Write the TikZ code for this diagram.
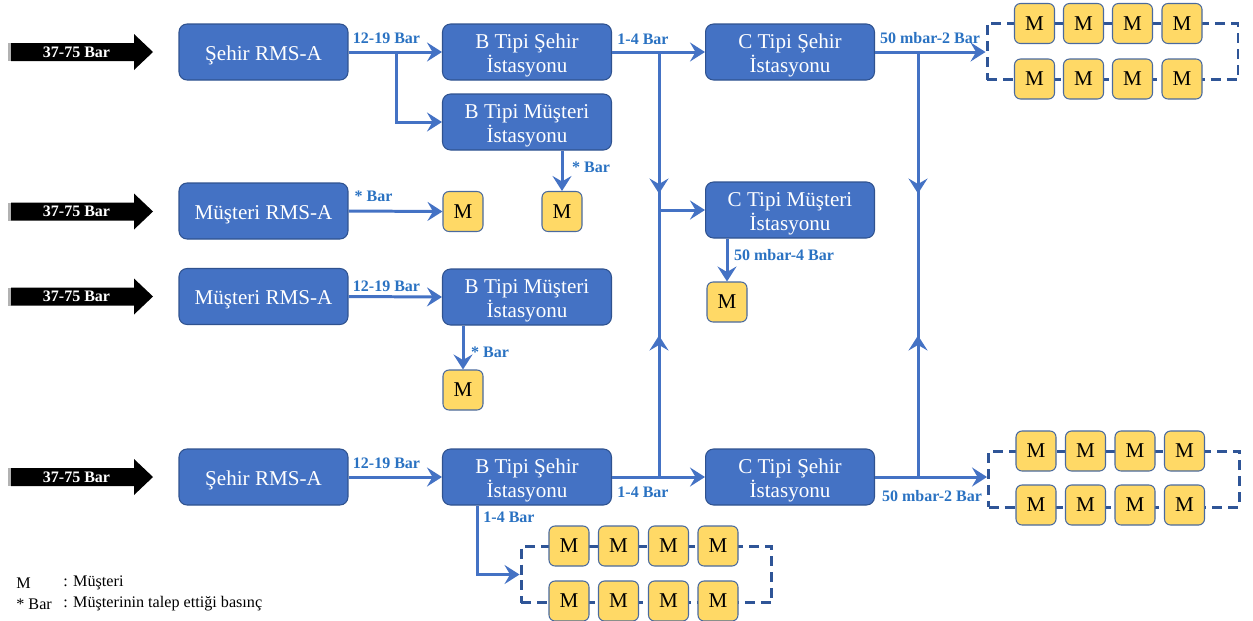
\documentclass[tikz,border=0pt]{standalone}
\usepackage{fontspec}
\setmainfont{Liberation Serif}
\usetikzlibrary{arrows.meta,decorations.markings,calc}
\definecolor{boxblue}{HTML}{4472C4}
\definecolor{boxborder}{HTML}{2F528F}
\definecolor{lineblue}{HTML}{4472C4}
\definecolor{lblblue}{HTML}{2A72C2}
\definecolor{myellow}{HTML}{FFD966}
\definecolor{mborder}{HTML}{4A6A9E}
\definecolor{dashblue}{HTML}{2F5597}
\begin{document}
\begin{tikzpicture}[x=0.02cm,y=-0.02cm,
  stntext/.style={text=white,font=\fontsize{12}{13.6}\selectfont,align=center,
    inner sep=0,yshift=-0.07cm},
  stn/.style={draw=boxborder,line width=0.6pt,fill=boxblue,rounded corners=0.16cm,
    minimum width=3.38cm,minimum height=1.12cm,inner sep=0,
    label={[stntext]center:{#1}}},
  mbox/.style={draw=mborder,line width=0.6pt,fill=myellow,rounded corners=0.12cm,
    minimum width=0.8cm,minimum height=0.8cm,inner sep=0,font=\fontsize{12}{13}\selectfont},
  conn/.style={color=lineblue,line width=1.7pt,-{Stealth[length=0.3cm,width=0.38cm,inset=0.11cm]}},
  plain/.style={color=lineblue,line width=1.7pt},
  midarrows/.style={postaction={decorate},decoration={markings,
    mark=at position 0.333 with {\arrow{Stealth[length=0.3cm,width=0.38cm,inset=0.11cm]}},
    mark=at position 0.667 with {\arrowreversed{Stealth[length=0.3cm,width=0.38cm,inset=0.11cm]}}}},
  lbl/.style={text=lblblue,font=\bfseries\fontsize{9.1}{10}\selectfont,inner sep=0},
  grp/.style={draw=dashblue,line width=1.7pt,dash pattern=on 0.2cm off 0.12cm,
    minimum width=5.02cm,minimum height=1.12cm,inner sep=0},
  legend/.style={font=\fontsize{9.2}{10}\selectfont,inner sep=0,anchor=west}
]
\useasboundingbox (0,0) rectangle (1253,620);

% input arrows
\foreach \yy/\nn in {52/1,211.5/2,296.5/3,477/4}{
  \fill[gray!60] (8,\yy-9) rectangle (11,\yy+9);
  \fill[black] (11,\yy-9) -- (134,\yy-9) -- (134,\yy-18) -- (153,\yy) -- (134,\yy+18) -- (134,\yy+9) -- (11,\yy+9) -- cycle;
  \node[text=white,font=\bfseries\fontsize{9.1}{10}\selectfont,inner sep=0] (arr\nn) at (76.5,\yy) {37-75 Bar};
}

% stations
\node[stn={Şehir RMS-A}] (rms1) at (263.5,52) {};
\node[stn={B Tipi Şehir\\İstasyonu}] (bs1) at (527,52) {};
\node[stn={B Tipi Müşteri\\İstasyonu}] (bm1) at (527,122) {};
\node[stn={C Tipi Şehir\\İstasyonu}] (cs1) at (790,52) {};
\node[stn={Müşteri RMS-A}] (rms2) at (263.5,211) {};
\node[stn={C Tipi Müşteri\\İstasyonu}] (cm) at (790,210) {};
\node[stn={Müşteri RMS-A}] (rms3) at (263.5,296.5) {};
\node[stn={B Tipi Müşteri\\İstasyonu}] (bm3) at (527,297) {};
\node[stn={Şehir RMS-A}] (rms4) at (263.5,477) {};
\node[stn={B Tipi Şehir\\İstasyonu}] (bs4) at (527,477) {};
\node[stn={C Tipi Şehir\\İstasyonu}] (cs4) at (790,477) {};

% single customers
\node[mbox] (m2) at (463,211.5) {M};
\node[mbox] (m1) at (562,211.5) {M};
\node[mbox] (mcm) at (727,302) {M};
\node[mbox] (m3) at (463,390) {M};

% groups
\node[grp] (g1) at (1112.5,51.5) {};
\node[grp] (g2) at (1114,479) {};
\node[grp] (g3) at (646.5,574.5) {};
\foreach \xx [count=\i] in {1034.5,1083.5,1132.5,1182}{
  \node[mbox] (ga\i) at (\xx,23.5) {M};
  \node[mbox] (gb\i) at (\xx,79) {M};
}
\foreach \xx [count=\i] in {1036,1085.5,1135,1184.5}{
  \node[mbox] (gc\i) at (\xx,451) {M};
  \node[mbox] (gd\i) at (\xx,505) {M};
}
\foreach \xx [count=\i] in {569,618.5,668.5,718}{
  \node[mbox] (ge\i) at (\xx,546) {M};
  \node[mbox] (gf\i) at (\xx,601) {M};
}

% junction coordinates
\coordinate (j1) at (396,52);
\coordinate (v1t) at (659,52);
\coordinate (v1b) at (659,477);
\coordinate (v2t) at (918,52);
\coordinate (v2b) at (918,477);
\coordinate (b4d) at ($(bs4.south west)!0.206!(bs4.south east)$);

% connectors
\draw[conn] (rms1.east) -- (bs1.west);
\draw[conn] (j1) |- (bm1.west);
\draw[conn] (bs1.east) -- (cs1.west);
\draw[plain,midarrows] (v1t) -- (v1b);
\draw[conn] (cm.west -| v1t) -- (cm.west);
\draw[conn] (m1.north |- bm1.south) -- (m1.north);
\draw[conn] (rms2.east) -- (m2.west);
\draw[conn] (cm.south -| mcm.north) -- (mcm.north);
\draw[conn] (rms3.east) -- (bm3.west);
\draw[conn] (bm3.south -| m3.north) -- (m3.north);
\draw[conn] (rms4.east) -- (bs4.west);
\draw[conn] (bs4.east) -- (cs4.west);
\draw[conn] (cs1.east) -- (cs1.east -| g1.west);
\draw[plain,midarrows] (v2t) -- (v2b);
\draw[conn] (cs4.east) -- (cs4.east -| g2.west);
\draw[conn] (b4d) |- (g3.west);

% labels
\node[lbl] (l1) at (386.5,38) {12-19 Bar};
\node[lbl] (l2) at (643,39) {1-4 Bar};
\node[lbl] (l3) at (930,38) {50 mbar-2 Bar};
\node[lbl] (l4) at (591,167) {* Bar};
\node[lbl] (l5) at (373.5,196) {* Bar};
\node[lbl] (l6) at (784,255) {50 mbar-4 Bar};
\node[lbl] (l7) at (386.5,286) {12-19 Bar};
\node[lbl] (l8) at (490,352) {* Bar};
\node[lbl] (l9) at (386.5,463) {12-19 Bar};
\node[lbl] (l10) at (643,492) {1-4 Bar};
\node[lbl] (l11) at (932,496) {50 mbar-2 Bar};
\node[lbl] (l12) at (509,517) {1-4 Bar};

% legend
\node[legend] (k1) at (16,583) {M};
\node[legend] (k2) at (63,583) {: Müşteri};
\node[legend] (k3) at (16,604) {* Bar};
\node[legend] (k4) at (63,604) {: Müşterinin talep ettiği basınç};
\end{tikzpicture}
\end{document}
